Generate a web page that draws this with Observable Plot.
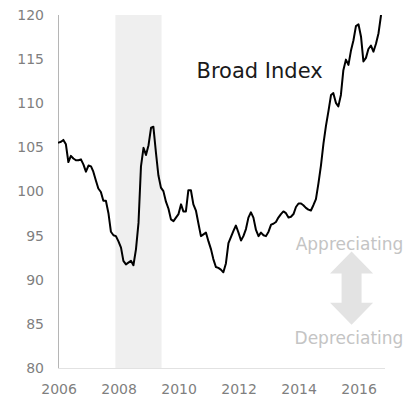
<!DOCTYPE html>
<html>
<head>
<meta charset="utf-8">
<script src="https://cdn.jsdelivr.net/npm/d3@7"></script>
<script src="https://cdn.jsdelivr.net/npm/@observablehq/plot@0.6"></script>
<style>
  html, body { margin: 0; padding: 0; background: #fff; }
  g[aria-label="ytick"] text, g[aria-label="xtick"] text { letter-spacing: 1.2px; }
  g[aria-label="series label"] text { letter-spacing: 0.3px; }
</style>
</head>
<body>
<div id="chart"></div>
<script>
// Monthly Broad Index, Jan 2006 .. Oct 2016
const startYear = 2006;
const broadIndex = [
  105.6, 105.7, 105.9, 105.4, 103.4, 104.1, 103.8, 103.6, 103.6, 103.7, 103.1, 102.3,
  103.0, 102.9, 102.3, 101.3, 100.4, 100.0, 99.0, 99.0, 97.6, 95.5, 95.1, 95.0,
  94.4, 93.7, 92.2, 91.8, 92.0, 92.2, 91.7, 93.5, 96.5, 102.9, 105.0, 104.2,
  105.3, 107.3, 107.4, 104.5, 101.9, 100.5, 100.1, 98.9, 98.1, 96.9, 96.7, 97.1,
  97.5, 98.6, 97.8, 97.8, 100.2, 100.2, 98.6, 97.9, 96.4, 95.0, 95.2, 95.4,
  94.4, 93.5, 92.4, 91.5, 91.4, 91.2, 90.9, 91.9, 94.2, 94.9, 95.6, 96.2,
  95.4, 94.5, 95.0, 95.8, 97.1, 97.7, 97.1, 95.7, 95.0, 95.4, 95.1, 95.0,
  95.5, 96.3, 96.4, 96.6, 97.1, 97.5, 97.8, 97.6, 97.1, 97.2, 97.5, 98.3,
  98.7, 98.7, 98.5, 98.2, 98.0, 97.9, 98.5, 99.2, 101.0, 103.0, 105.5, 107.5,
  109.2, 111.0, 111.2, 110.1, 109.7, 111.0, 113.8, 115.0, 114.4, 116.0, 117.2, 118.8,
  119.0, 117.6, 114.8, 115.2, 116.2, 116.6, 115.9, 116.8, 118.0, 120.0
];
const recessionStart = [2007, 11];   // Dec 2007
const recessionEnd = [2009, 5, 15];  // mid Jun 2009
const yTicks = [80, 85, 90, 95, 100, 105, 110, 115, 120];
const xTickYears = [2006, 2008, 2010, 2012, 2014, 2016];
const seriesLabel = "Broad Index";
const upLabel = "Appreciating";
const downLabel = "Depreciating";

const utc = (y, m = 0, d = 1) => new Date(Date.UTC(y, m, d));
const data = broadIndex.map((v, i) => ({date: utc(startYear, i, 1), value: v}));
const recession = [{x1: utc(...recessionStart), x2: utc(...recessionEnd)}];
const xStart = utc(2006, 0, 1);

const font = "'Century Gothic', 'DejaVu Sans', sans-serif";

// double-headed arrow drawn in pixel space around a data anchor
function doubleArrow(index, scales) {
  const cx = scales.x(utc(2015, 9, 15));
  const yTop = scales.y(93.2), yBot = scales.y(84.9);
  const head = 22, hw = 21.5, sw = 10;
  const pts = [
    [cx, yTop], [cx + hw, yTop + head], [cx + sw, yTop + head], [cx + sw, yBot - head],
    [cx + hw, yBot - head], [cx, yBot], [cx - hw, yBot - head], [cx - sw, yBot - head],
    [cx - sw, yTop + head], [cx - hw, yTop + head]
  ];
  const g = d3.create("svg:g");
  g.append("polygon").attr("points", pts.map(p => p.join(",")).join(" ")).attr("fill", "#e3e3e3");
  return g.node();
}

const chart = Plot.plot({
  width: 406,
  height: 403,
  marginLeft: 58,
  marginRight: 21,
  marginTop: 15,
  marginBottom: 35,
  style: {fontFamily: font, fontSize: "14px", color: "#7f7f7f", background: "#fff", overflow: "visible"},
  x: {type: "utc", domain: [xStart, utc(2016, 10, 25)], axis: null},
  y: {domain: [80, 120], axis: null},
  marks: [
    Plot.rect(recession, {x1: "x1", x2: "x2", y1: 80, y2: 120, fill: "#efefef"}),
    Plot.ruleY([80], {stroke: "#e2e2e2", strokeWidth: 1}),
    Plot.ruleX([xStart], {stroke: "#b5b5b5", strokeWidth: 1}),
    Plot.text(yTicks, {x: utc(2005, 6, 9), y: d => d, text: d => String(d), textAnchor: "end", fontSize: 14, fill: "#7f7f7f", ariaLabel: "ytick"}),
    Plot.text(xTickYears, {x: d => utc(d), y: 77.6, text: d => String(d), textAnchor: "middle", dx: 0.6, fontSize: 14, fill: "#7f7f7f", ariaLabel: "xtick"}),
    Plot.line(data, {x: "date", y: "value", stroke: "#000", strokeWidth: 2, clip: true}),
    Plot.text([seriesLabel], {x: utc(2010, 7, 8), y: 113.7, text: d => d, textAnchor: "start", fontSize: 21, fill: "#1a1a1a", ariaLabel: "series label"}),
    Plot.text([upLabel], {x: utc(2017, 6, 1), y: 94.1, text: d => d, textAnchor: "end", fontSize: 17, fill: "#c4c4c4"}),
    Plot.text([downLabel], {x: utc(2017, 6, 1), y: 83.4, text: d => d, textAnchor: "end", fontSize: 17, fill: "#c4c4c4"}),
    doubleArrow
  ]
});
document.getElementById("chart").appendChild(chart);
</script>
</body>
</html>
